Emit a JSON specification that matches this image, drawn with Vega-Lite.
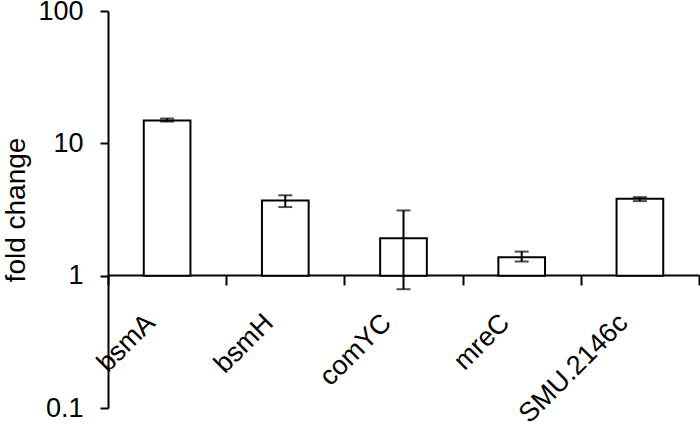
{
  "$schema": "https://vega.github.io/schema/vega-lite/v6.json",
  "width": 591,
  "height": 397,
  "autosize": {"type": "none"},
  "padding": {"left": 108, "top": 11, "right": 1, "bottom": 23},
  "background": "white",
  "config": {
    "view": {"stroke": null},
    "font": "Liberation Sans",
    "axis": {"grid": false, "domainColor": "black", "tickColor": "black", "labelColor": "black", "titleColor": "black", "domainWidth": 2, "tickWidth": 2, "labelFont": "Liberation Sans", "titleFont": "Liberation Sans"}
  },
  "data": {
    "values": [
      {"gene": "bsmA", "fold": 14.9, "lo": 14.6, "hi": 15.4},
      {"gene": "bsmH", "fold": 3.7, "lo": 3.3, "hi": 4.05},
      {"gene": "comYC", "fold": 1.92, "lo": 0.79, "hi": 3.11},
      {"gene": "mreC", "fold": 1.38, "lo": 1.28, "hi": 1.52},
      {"gene": "SMU.2146c", "fold": 3.81, "lo": 3.66, "hi": 3.92}
    ]
  },
  "layer": [
    {
      "mark": {"type": "bar", "fill": "white", "stroke": "black", "strokeWidth": 2, "width": {"band": 0.395}},
      "encoding": {
        "x": {
          "field": "gene",
          "type": "nominal",
          "sort": null,
          "scale": {"paddingInner": 0, "paddingOuter": 0},
          "axis": {
            "title": null,
            "offset": -133,
            "tickBand": "extent",
            "tickSize": 10,
            "labels": false
          }
        },
        "y": {
          "field": "fold",
          "type": "quantitative",
          "scale": {"type": "log", "domain": [0.1, 100], "nice": false},
          "axis": {
            "title": "fold change",
            "titleFontSize": 28,
            "titleFontWeight": "normal",
            "titlePadding": 7,
            "values": [0.1, 1, 10, 100],
            "format": "~g",
            "tickSize": 8,
            "labelPadding": 17,
            "labelFontSize": 27
          }
        },
        "y2": {"datum": 1}
      }
    },
    {
      "mark": {"type": "rule", "color": "black", "strokeWidth": 2},
      "encoding": {
        "x": {"field": "gene", "type": "nominal", "sort": null},
        "y": {"field": "lo", "type": "quantitative"},
        "y2": {"field": "hi"}
      }
    },
    {
      "mark": {"type": "tick", "color": "black", "size": 14, "thickness": 2},
      "encoding": {
        "x": {"field": "gene", "type": "nominal", "sort": null},
        "y": {"field": "lo", "type": "quantitative"}
      }
    },
    {
      "mark": {"type": "tick", "color": "black", "size": 14, "thickness": 2},
      "encoding": {
        "x": {"field": "gene", "type": "nominal", "sort": null},
        "y": {"field": "hi", "type": "quantitative"}
      }
    },
    {
      "mark": {"type": "text", "angle": -45, "align": "right", "baseline": "middle", "fontSize": 27, "font": "Liberation Sans", "color": "black", "dx": -42, "dy": 19},
      "encoding": {
        "x": {"field": "gene", "type": "nominal", "sort": null},
        "y": {"datum": 1},
        "text": {"field": "gene"}
      }
    }
  ]
}
